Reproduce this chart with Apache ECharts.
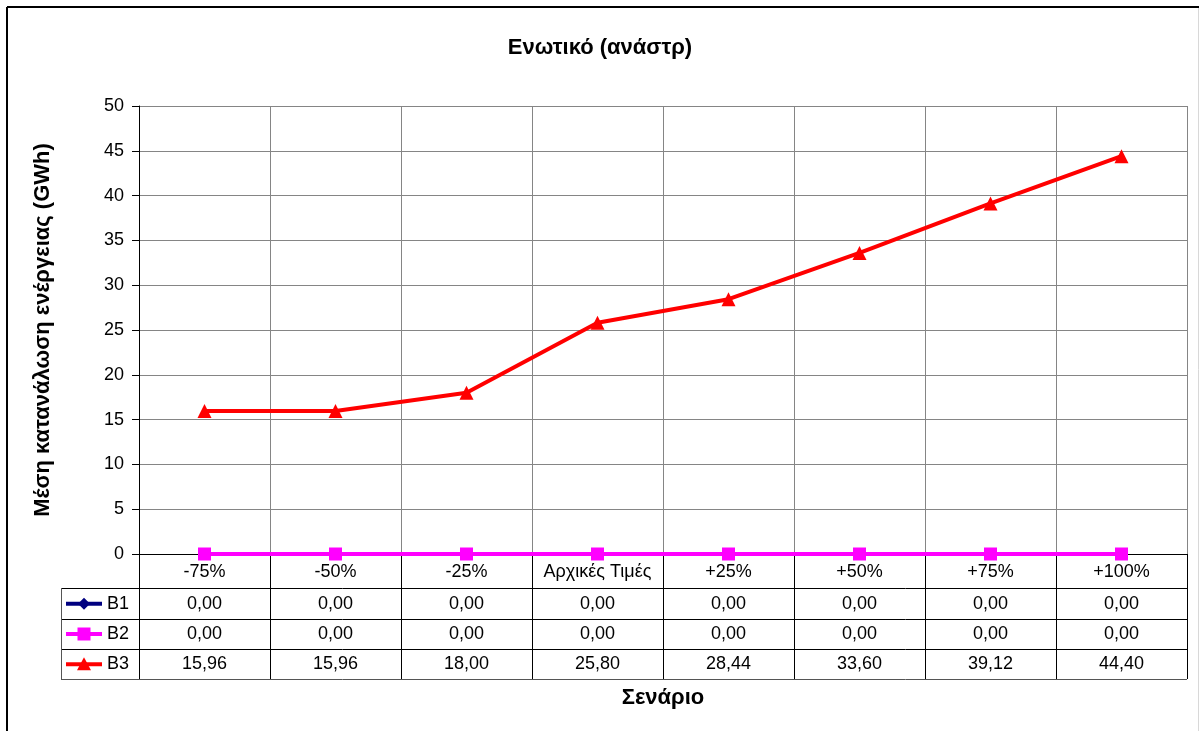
<!DOCTYPE html>
<html>
<head>
<meta charset="utf-8">
<script src="https://cdn.jsdelivr.net/npm/echarts@6/dist/echarts.min.js"></script>
<style>
  html, body { margin: 0; padding: 0; background: #fff; }
  #chart { width: 1200px; height: 731px; }
</style>
</head>
<body>
<div id="chart"></div>
<script>
// Scenario categories along the horizontal axis
const scenarios = ['-75%', '-50%', '-25%', 'Αρχικές Τιμές', '+25%', '+50%', '+75%', '+100%'];
// Mean energy consumption (GWh) per series
const b1Values = [0.00, 0.00, 0.00, 0.00, 0.00, 0.00, 0.00, 0.00];
const b2Values = [0.00, 0.00, 0.00, 0.00, 0.00, 0.00, 0.00, 0.00];
const b3Values = [15.96, 15.96, 18.00, 25.80, 28.44, 33.60, 39.12, 44.40];
const seriesNames = ['B1', 'B2', 'B3'];
const yTicks = [0, 5, 10, 15, 20, 25, 30, 35, 40, 45, 50];

const FONT = '"Liberation Sans", Arial, sans-serif';
const LABEL_SIZE = 18;
const BOLD_SIZE = 22;
const colors = { B1: '#000080', B2: '#FF00FF', B3: '#FF0000' };
const symbols = { B1: 'diamond', B2: 'rect', B3: 'triangle' };
const symbolSizes = { B1: 12, B2: 13, B3: 14 };
const allValues = { B1: b1Values, B2: b2Values, B3: b3Values };

const chart = echarts.init(document.getElementById('chart'), null, { renderer: 'canvas' });

const GRID = { left: 139, right: 13, top: 106, bottom: 177 };
const rowBottoms = [588, 618.5, 648.5, 679];   // data-table row boundaries

function fmt(v) { return v.toFixed(2).replace('.', ','); }

chart.setOption({
  animation: false,
  backgroundColor: '#fff',
  textStyle: { fontFamily: FONT },
  title: {
    text: 'Ενωτικό (ανάστρ)',
    left: 'center',
    top: 32,
    textStyle: { fontFamily: FONT, fontSize: BOLD_SIZE, fontWeight: 'bold', color: '#000' }
  },
  grid: GRID,
  xAxis: {
    type: 'category',
    data: scenarios,
    boundaryGap: true,
    name: 'Σενάριο',
    nameLocation: 'middle',
    nameGap: 133,
    nameTextStyle: { fontFamily: FONT, fontSize: BOLD_SIZE, fontWeight: 'bold', color: '#000', verticalAlign: 'top' },
    axisLine: { show: true, lineStyle: { color: '#000', width: 1 } },
    axisTick: { show: true, alignWithLabel: false, inside: false, length: 125, lineStyle: { color: '#000', width: 1 } },
    axisLabel: { fontFamily: FONT, fontSize: LABEL_SIZE, color: '#000', margin: 9, interval: 0 },
    splitLine: { show: true, lineStyle: { color: '#858585', width: 1 } }
  },
  yAxis: {
    type: 'value',
    min: yTicks[0],
    max: yTicks[yTicks.length - 1],
    interval: 5,
    name: 'Μέση κατανάλωση ενέργειας (GWh)',
    nameLocation: 'middle',
    nameGap: 85,
    nameRotate: 90,
    nameTextStyle: { fontFamily: FONT, fontSize: BOLD_SIZE, fontWeight: 'bold', color: '#000' },
    axisLine: { show: true, lineStyle: { color: '#000', width: 1 } },
    axisTick: { show: true, length: 7, lineStyle: { color: '#000' } },
    axisLabel: { fontFamily: FONT, fontSize: LABEL_SIZE, color: '#000', margin: 15 },
    splitLine: { show: true, lineStyle: { color: '#858585', width: 1 } }
  },
  series: seriesNames.map(n => ({
    name: n,
    type: 'line',
    data: allValues[n],
    symbol: symbols[n],
    symbolSize: symbolSizes[n],
    showAllSymbol: true,
    lineStyle: { color: colors[n], width: 4 },
    itemStyle: { color: colors[n] },
    z: 3
  }))
});

// Data table under the plot: rows for each series, columns aligned with categories
function buildTable() {
  const els = [];
  const xRight = 1200 - GRID.right;
  const legendLeft = 61;
  const lineCol = '#000';
  const textFont = LABEL_SIZE + 'px ' + FONT;

  // horizontal row lines
  rowBottoms.forEach((y, i) => {
    els.push({
      type: 'line', silent: true, z: 10,
      shape: { x1: legendLeft, y1: Math.round(y) + 0.5, x2: xRight, y2: Math.round(y) + 0.5 },
      style: { stroke: i === rowBottoms.length - 1 ? '#555' : lineCol, lineWidth: 1 }
    });
  });
  // left edge of legend column
  els.push({
    type: 'line', silent: true, z: 10,
    shape: { x1: legendLeft + 0.5, y1: rowBottoms[0], x2: legendLeft + 0.5, y2: rowBottoms[3] + 0.5 },
    style: { stroke: '#555', lineWidth: 1 }
  });

  seriesNames.forEach((n, r) => {
    const yc = (rowBottoms[r] + rowBottoms[r + 1]) / 2 + 0.5;
    const col = colors[n];
    // legend key: line + marker
    els.push({
      type: 'line', silent: true, z: 10,
      shape: { x1: 66, y1: yc, x2: 102, y2: yc },
      style: { stroke: col, lineWidth: 4 }
    });
    const cx = 84;
    if (n === 'B1') {
      els.push({ type: 'polygon', silent: true, z: 11,
        shape: { points: [[cx, yc - 6], [cx + 6, yc], [cx, yc + 6], [cx - 6, yc]] },
        style: { fill: col } });
    } else if (n === 'B2') {
      els.push({ type: 'rect', silent: true, z: 11,
        shape: { x: cx - 6.5, y: yc - 6.5, width: 13, height: 13 },
        style: { fill: col } });
    } else {
      els.push({ type: 'polygon', silent: true, z: 11,
        shape: { points: [[cx, yc - 7], [cx + 7, yc + 6], [cx - 7, yc + 6]] },
        style: { fill: col } });
    }
    els.push({
      type: 'text', silent: true, z: 11,
      x: 107, y: yc,
      style: { text: n, fill: '#000', font: textFont, textAlign: 'left', textVerticalAlign: 'middle' }
    });
    // values
    allValues[n].forEach((v, i) => {
      const px = chart.convertToPixel({ xAxisIndex: 0 }, i);
      els.push({
        type: 'text', silent: true, z: 11,
        x: px, y: yc,
        style: { text: fmt(v), fill: '#000', font: textFont, textAlign: 'center', textVerticalAlign: 'middle' }
      });
    });
  });

  // outer chart frame
  els.push({ type: 'line', silent: true, z: 12,
    shape: { x1: 7, y1: 7, x2: 1199, y2: 7 }, style: { stroke: '#000', lineWidth: 2 } });
  els.push({ type: 'line', silent: true, z: 12,
    shape: { x1: 7, y1: 7, x2: 7, y2: 731 }, style: { stroke: '#000', lineWidth: 2 } });
  els.push({ type: 'line', silent: true, z: 12,
    shape: { x1: 1198.5, y1: 8, x2: 1198.5, y2: 731 }, style: { stroke: '#d8d8d8', lineWidth: 1 } });

  return els;
}

chart.setOption({ graphic: buildTable() });
</script>
</body>
</html>
